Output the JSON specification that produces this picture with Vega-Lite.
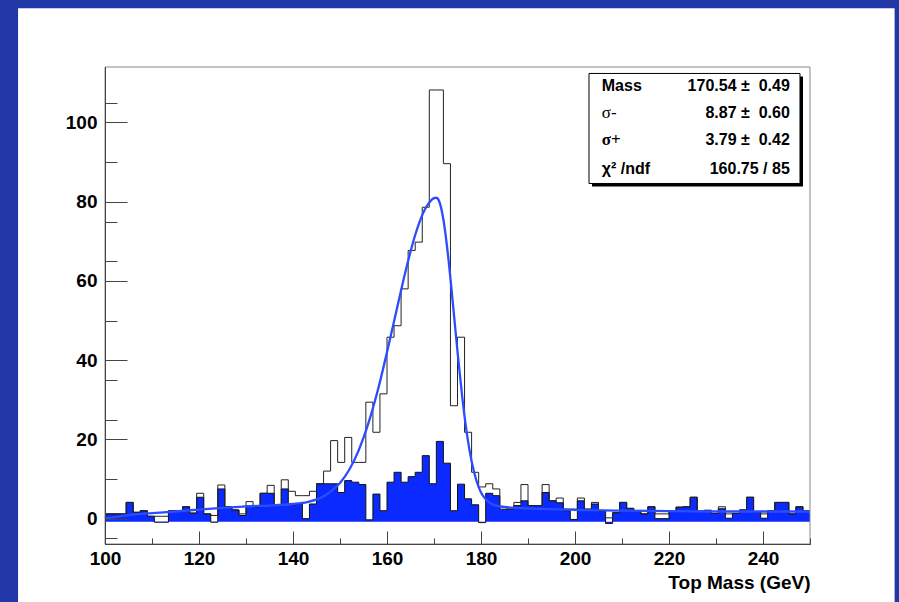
{
  "$schema": "https://vega.github.io/schema/vega-lite/v6.json",
  "width": 705,
  "height": 477,
  "autosize": "none",
  "padding": {"left": 105, "top": 67, "right": 89, "bottom": 58},
  "background": "#2338a8",
  "config": {
    "view": {"stroke": null},
    "axis": {"grid": false}
  },
  "datasets": {
    "one": [{"k": 1}],
    "hist": [
      {"i":0,"lo":100,"hi":101.5,"T":1.2,"B":1.2},
      {"i":1,"lo":101.5,"hi":103,"T":1.2,"B":1.2},
      {"i":2,"lo":103,"hi":104.5,"T":1.2,"B":1.2},
      {"i":3,"lo":104.5,"hi":106,"T":4.1,"B":4.1},
      {"i":4,"lo":106,"hi":107.5,"T":1.6,"B":1.6},
      {"i":5,"lo":107.5,"hi":109,"T":2.0,"B":2.0},
      {"i":6,"lo":109,"hi":110.5,"T":0.6,"B":0.6},
      {"i":7,"lo":110.5,"hi":112,"T":0.6,"B":-0.9},
      {"i":8,"lo":112,"hi":113.5,"T":0.6,"B":-0.9},
      {"i":9,"lo":113.5,"hi":115,"T":2.0,"B":2.0},
      {"i":10,"lo":115,"hi":116.5,"T":2.0,"B":2.0},
      {"i":11,"lo":116.5,"hi":118,"T":3.0,"B":3.0},
      {"i":12,"lo":118,"hi":119.5,"T":1.4,"B":1.4},
      {"i":13,"lo":119.5,"hi":121,"T":6.4,"B":5.4},
      {"i":14,"lo":121,"hi":122.5,"T":1.2,"B":1.2},
      {"i":15,"lo":122.5,"hi":124,"T":0.8,"B":-0.9},
      {"i":16,"lo":124,"hi":125.5,"T":8.5,"B":7.5},
      {"i":17,"lo":125.5,"hi":127,"T":3.0,"B":3.0},
      {"i":18,"lo":127,"hi":128.5,"T":2.2,"B":2.2},
      {"i":19,"lo":128.5,"hi":130,"T":1.2,"B":0.8},
      {"i":20,"lo":130,"hi":131.5,"T":4.3,"B":3.3},
      {"i":21,"lo":131.5,"hi":133,"T":3.0,"B":3.0},
      {"i":22,"lo":133,"hi":134.5,"T":6.4,"B":6.4},
      {"i":23,"lo":134.5,"hi":136,"T":8.4,"B":6.4},
      {"i":24,"lo":136,"hi":137.5,"T":3.4,"B":3.4},
      {"i":25,"lo":137.5,"hi":139,"T":9.8,"B":7.5},
      {"i":26,"lo":139,"hi":140.5,"T":6.9,"B":3.4},
      {"i":27,"lo":140.5,"hi":142,"T":5.8,"B":3.7},
      {"i":28,"lo":142,"hi":143.5,"T":5.8,"B":0.0},
      {"i":29,"lo":143.5,"hi":145,"T":6.9,"B":3.7},
      {"i":30,"lo":145,"hi":146.5,"T":8.8,"B":8.8},
      {"i":31,"lo":146.5,"hi":148,"T":12.0,"B":8.8},
      {"i":32,"lo":148,"hi":149.5,"T":19.7,"B":8.8},
      {"i":33,"lo":149.5,"hi":151,"T":14.2,"B":6.6},
      {"i":34,"lo":151,"hi":152.5,"T":20.5,"B":9.6},
      {"i":35,"lo":152.5,"hi":154,"T":14.2,"B":9.2},
      {"i":36,"lo":154,"hi":155.5,"T":14.2,"B":8.6},
      {"i":37,"lo":155.5,"hi":157,"T":29.4,"B":-0.3},
      {"i":38,"lo":157,"hi":158.5,"T":21.8,"B":6.2},
      {"i":39,"lo":158.5,"hi":160,"T":31.5,"B":2.0},
      {"i":40,"lo":160,"hi":161.5,"T":45.8,"B":9.2},
      {"i":41,"lo":161.5,"hi":163,"T":48.7,"B":11.7},
      {"i":42,"lo":163,"hi":164.5,"T":58.0,"B":9.2},
      {"i":43,"lo":164.5,"hi":166,"T":67.7,"B":10.6},
      {"i":44,"lo":166,"hi":167.5,"T":69.8,"B":11.7},
      {"i":45,"lo":167.5,"hi":169,"T":78.6,"B":15.9},
      {"i":46,"lo":169,"hi":170.5,"T":108.2,"B":8.8},
      {"i":47,"lo":170.5,"hi":172,"T":108.2,"B":19.5},
      {"i":48,"lo":172,"hi":173.5,"T":89.6,"B":14.0},
      {"i":49,"lo":173.5,"hi":175,"T":28.5,"B":2.0},
      {"i":50,"lo":175,"hi":176.5,"T":45.8,"B":8.7},
      {"i":51,"lo":176.5,"hi":178,"T":21.8,"B":5.0},
      {"i":52,"lo":178,"hi":179.5,"T":11.7,"B":3.5},
      {"i":53,"lo":179.5,"hi":181,"T":8.0,"B":-1.0},
      {"i":54,"lo":181,"hi":182.5,"T":8.8,"B":6.4},
      {"i":55,"lo":182.5,"hi":184,"T":7.5,"B":5.8},
      {"i":56,"lo":184,"hi":185.5,"T":3.0,"B":2.4},
      {"i":57,"lo":185.5,"hi":187,"T":2.4,"B":2.4},
      {"i":58,"lo":187,"hi":188.5,"T":4.1,"B":3.3},
      {"i":59,"lo":188.5,"hi":190,"T":8.6,"B":4.5},
      {"i":60,"lo":190,"hi":191.5,"T":3.3,"B":3.3},
      {"i":61,"lo":191.5,"hi":193,"T":3.3,"B":3.3},
      {"i":62,"lo":193,"hi":194.5,"T":8.6,"B":6.6},
      {"i":63,"lo":194.5,"hi":196,"T":4.5,"B":4.5},
      {"i":64,"lo":196,"hi":197.5,"T":5.2,"B":4.0},
      {"i":65,"lo":197.5,"hi":199,"T":2.4,"B":2.0},
      {"i":66,"lo":199,"hi":200.5,"T":2.4,"B":-0.2},
      {"i":67,"lo":200.5,"hi":202,"T":5.2,"B":4.5},
      {"i":68,"lo":202,"hi":203.5,"T":2.4,"B":2.4},
      {"i":69,"lo":203.5,"hi":205,"T":4.1,"B":3.7},
      {"i":70,"lo":205,"hi":206.5,"T":1.8,"B":1.8},
      {"i":71,"lo":206.5,"hi":208,"T":0.2,"B":-1.2},
      {"i":72,"lo":208,"hi":209.5,"T":1.5,"B":1.5},
      {"i":73,"lo":209.5,"hi":211,"T":4.1,"B":4.1},
      {"i":74,"lo":211,"hi":212.5,"T":2.6,"B":2.6},
      {"i":75,"lo":212.5,"hi":214,"T":2.0,"B":2.0},
      {"i":76,"lo":214,"hi":215.5,"T":1.2,"B":1.2},
      {"i":77,"lo":215.5,"hi":217,"T":3.0,"B":3.0},
      {"i":78,"lo":217,"hi":218.5,"T":1.2,"B":0.0},
      {"i":79,"lo":218.5,"hi":220,"T":1.2,"B":0.0},
      {"i":80,"lo":220,"hi":221.5,"T":1.9,"B":1.9},
      {"i":81,"lo":221.5,"hi":223,"T":2.9,"B":2.9},
      {"i":82,"lo":223,"hi":224.5,"T":3.0,"B":3.0},
      {"i":83,"lo":224.5,"hi":226,"T":5.4,"B":5.4},
      {"i":84,"lo":226,"hi":227.5,"T":1.9,"B":1.9},
      {"i":85,"lo":227.5,"hi":229,"T":2.1,"B":2.1},
      {"i":86,"lo":229,"hi":230.5,"T":1.3,"B":1.3},
      {"i":87,"lo":230.5,"hi":232,"T":3.0,"B":2.5},
      {"i":88,"lo":232,"hi":233.5,"T":1.2,"B":0.1},
      {"i":89,"lo":233.5,"hi":235,"T":1.3,"B":1.3},
      {"i":90,"lo":235,"hi":236.5,"T":2.2,"B":2.2},
      {"i":91,"lo":236.5,"hi":238,"T":5.4,"B":5.4},
      {"i":92,"lo":238,"hi":239.5,"T":1.6,"B":1.6},
      {"i":93,"lo":239.5,"hi":241,"T":1.2,"B":0.1},
      {"i":94,"lo":241,"hi":242.5,"T":2.0,"B":2.0},
      {"i":95,"lo":242.5,"hi":244,"T":4.1,"B":4.1},
      {"i":96,"lo":244,"hi":245.5,"T":4.1,"B":4.1},
      {"i":97,"lo":245.5,"hi":247,"T":1.2,"B":1.2},
      {"i":98,"lo":247,"hi":248.5,"T":3.0,"B":3.0},
      {"i":99,"lo":248.5,"hi":250,"T":2.0,"B":2.0}
    ],
    "fit": [
      {"x":100,"y":0.0},{"x":103,"y":0.6},{"x":105,"y":0.9},{"x":110,"y":1.4},
      {"x":115,"y":1.8},{"x":120,"y":2.3},{"x":125,"y":2.7},{"x":130,"y":3.1},
      {"x":135,"y":3.3},{"x":140,"y":3.7},{"x":143,"y":4.2},{"x":146,"y":5.3},
      {"x":148,"y":6.8},{"x":150,"y":9.0},{"x":152,"y":12.4},{"x":154,"y":17.3},
      {"x":156,"y":23.9},{"x":158,"y":32.2},{"x":160,"y":42.0},{"x":162,"y":52.4},
      {"x":164,"y":62.7},{"x":166,"y":71.6},{"x":168,"y":77.9},{"x":169,"y":79.8},
      {"x":170,"y":80.9},{"x":170.5,"y":81.0},{"x":171,"y":80.4},{"x":172,"y":75.5},
      {"x":173,"y":66.3},{"x":174,"y":54.5},{"x":175,"y":42.2},{"x":176,"y":30.8},
      {"x":177,"y":21.4},{"x":178,"y":14.5},{"x":179,"y":9.7},{"x":180,"y":6.6},
      {"x":181,"y":4.9},{"x":182,"y":3.9},{"x":183,"y":3.35},{"x":185,"y":2.95},
      {"x":190,"y":2.6},{"x":195,"y":2.4},{"x":200,"y":2.2},{"x":210,"y":2.0},
      {"x":220,"y":1.9},{"x":230,"y":1.8},{"x":240,"y":1.8},{"x":250,"y":1.8}
    ]
  },
  "resolve": {"axis": {"x": "independent", "y": "independent"}},
  "layer": [
    {
      "data": {"name": "one"},
      "mark": {"type": "rect", "fill": "#ffffff", "strokeWidth": 0},
      "encoding": {
        "x": {
          "datum": 81.5, "type": "quantitative",
          "scale": {"domain": [100, 250], "nice": false, "zero": false},
          "axis": {
            "orient": "bottom",
            "zindex": 2,
            "values": [100,120,140,160,180,200,220,240],
            "tickSize": -13,
            "tickColor": "#444", "tickWidth": 1,
            "domainColor": "#444", "domainWidth": 1,
            "labelFlush": false,
            "labelOverlap": false,
            "labelPadding": 18,
            "labelFont": "Liberation Sans", "labelFontWeight": "bold", "labelFontSize": 19, "labelColor": "#000",
            "title": "Top Mass (GeV)",
            "titleAnchor": "end", "titleAlign": "right",
            "titleFont": "Liberation Sans", "titleFontWeight": "bold", "titleFontSize": 19, "titleColor": "#000",
            "titlePadding": 5
          }
        },
        "x2": {"datum": 268},
        "y": {
          "datum": 128.8, "type": "quantitative",
          "scale": {"domain": [-6.4, 114], "nice": false, "zero": false},
          "axis": {
            "orient": "left",
            "zindex": 2,
            "values": [0,20,40,60,80,100],
            "tickSize": -22,
            "tickColor": "#444", "tickWidth": 1,
            "domainColor": "#444", "domainWidth": 1,
            "labelOverlap": false,
            "labelPadding": 30,
            "labelFont": "Liberation Sans", "labelFontWeight": "bold", "labelFontSize": 19, "labelColor": "#000",
            "title": null
          }
        },
        "y2": {"datum": -30}
      }
    },
    {
      "layer": [
        {
          "data": {"name": "hist"},
          "transform": [{"fold": ["lo", "hi"], "as": ["edge", "xpos"]}],
          "mark": {"type": "area", "fill": "#0a2aff", "strokeWidth": 0, "opacity": 1},
          "encoding": {
            "x": {"field": "xpos", "type": "quantitative",
              "axis": {"orient": "bottom", "zindex": 2, "title": null, "labels": false,
                "values": [100,105,110,115,120,125,130,135,140,145,150,155,160,165,170,175,180,185,190,195,200,205,210,215,220,225,230,235,240,245,250],
                "tickSize": -6, "tickColor": "#444", "tickWidth": 1, "domainColor": "#444"}},
            "y": {"field": "B", "type": "quantitative",
              "axis": {"orient": "left", "zindex": 2, "title": null, "labels": false,
                "values": [-5,5,10,15,25,30,35,45,50,55,65,70,75,85,90,95,105,110],
                "tickSize": -12, "tickColor": "#444", "tickWidth": 1, "domainColor": "#444"}},
            "y2": {"datum": -0.8},
            "order": [{"field": "i", "type": "quantitative"}, {"field": "edge", "sort": "descending"}]
          }
        },
        {
          "data": {"name": "hist"},
          "transform": [{"fold": ["lo", "hi"], "as": ["edge", "xpos"]}],
          "mark": {"type": "line", "stroke": "#111", "strokeWidth": 1},
          "encoding": {
            "x": {"field": "xpos", "type": "quantitative"},
            "y": {"field": "B", "type": "quantitative"},
            "order": [{"field": "i", "type": "quantitative"}, {"field": "edge", "sort": "descending"}]
          }
        },
        {
          "data": {"name": "hist"},
          "transform": [{"fold": ["lo", "hi"], "as": ["edge", "xpos"]}],
          "mark": {"type": "line", "stroke": "#222", "strokeWidth": 1},
          "encoding": {
            "x": {"field": "xpos", "type": "quantitative"},
            "y": {"field": "T", "type": "quantitative"},
            "order": [{"field": "i", "type": "quantitative"}, {"field": "edge", "sort": "descending"}]
          }
        },
        {
          "data": {"name": "fit"},
          "mark": {"type": "line", "stroke": "#2b4cff", "strokeWidth": 2.3, "interpolate": "monotone"},
          "encoding": {
            "x": {"field": "x", "type": "quantitative"},
            "y": {"field": "y", "type": "quantitative"}
          }
        },
        {
          "data": {"name": "one"},
          "mark": {"type": "rect", "fill": null, "stroke": "#888", "strokeWidth": 1},
          "encoding": {
            "x": {"datum": 100, "type": "quantitative"},
            "x2": {"datum": 250},
            "y": {"datum": -6.4, "type": "quantitative"},
            "y2": {"datum": 114}
          }
        },
        {
          "data": {"name": "one"},
          "mark": {"type": "rect", "fill": "#000", "strokeWidth": 0},
          "encoding": {
            "x": {"datum": 203.62, "type": "quantitative"},
            "x2": {"datum": 248.51},
            "y": {"datum": 83.84, "type": "quantitative"},
            "y2": {"datum": 111.6}
          }
        },
        {
          "data": {"name": "one"},
          "mark": {"type": "rect", "fill": "#fff", "stroke": "#000", "strokeWidth": 1},
          "encoding": {
            "x": {"datum": 202.98, "type": "quantitative"},
            "x2": {"datum": 247.87},
            "y": {"datum": 84.6, "type": "quantitative"},
            "y2": {"datum": 112.37}
          }
        },
        {
          "data": {"name": "one"},
          "mark": {"type": "text", "align": "left", "baseline": "middle", "font": "Liberation Sans", "fontWeight": "bold", "fontSize": 16, "color": "#000"},
          "encoding": {"x": {"datum": 205.7, "type": "quantitative"}, "y": {"datum": 109.3, "type": "quantitative"}, "text": {"value": "Mass"}}
        },
        {
          "data": {"name": "one"},
          "mark": {"type": "text", "align": "right", "baseline": "middle", "font": "Liberation Sans", "fontWeight": "bold", "fontSize": 16, "color": "#000"},
          "encoding": {"x": {"datum": 245.7, "type": "quantitative"}, "y": {"datum": 109.3, "type": "quantitative"}, "text": {"value": "170.54 ±\u00a0 0.49"}}
        },
        {
          "data": {"name": "one"},
          "mark": {"type": "text", "align": "left", "baseline": "middle", "font": "Liberation Serif", "fontWeight": "normal", "fontSize": 17, "color": "#000"},
          "encoding": {"x": {"datum": 205.7, "type": "quantitative"}, "y": {"datum": 102.35, "type": "quantitative"}, "text": {"value": "σ-"}}
        },
        {
          "data": {"name": "one"},
          "mark": {"type": "text", "align": "right", "baseline": "middle", "font": "Liberation Sans", "fontWeight": "bold", "fontSize": 16, "color": "#000"},
          "encoding": {"x": {"datum": 245.7, "type": "quantitative"}, "y": {"datum": 102.35, "type": "quantitative"}, "text": {"value": "8.87 ±\u00a0 0.60"}}
        },
        {
          "data": {"name": "one"},
          "mark": {"type": "text", "align": "left", "baseline": "middle", "font": "Liberation Serif", "fontWeight": "bold", "fontSize": 17, "color": "#000"},
          "encoding": {"x": {"datum": 205.7, "type": "quantitative"}, "y": {"datum": 95.45, "type": "quantitative"}, "text": {"value": "σ+"}}
        },
        {
          "data": {"name": "one"},
          "mark": {"type": "text", "align": "right", "baseline": "middle", "font": "Liberation Sans", "fontWeight": "bold", "fontSize": 16, "color": "#000"},
          "encoding": {"x": {"datum": 245.7, "type": "quantitative"}, "y": {"datum": 95.45, "type": "quantitative"}, "text": {"value": "3.79 ±\u00a0 0.42"}}
        },
        {
          "data": {"name": "one"},
          "mark": {"type": "text", "align": "left", "baseline": "middle", "font": "Liberation Sans", "fontWeight": "bold", "fontSize": 16, "color": "#000"},
          "encoding": {"x": {"datum": 205.7, "type": "quantitative"}, "y": {"datum": 88.3, "type": "quantitative"}, "text": {"value": "χ² /ndf"}}
        },
        {
          "data": {"name": "one"},
          "mark": {"type": "text", "align": "right", "baseline": "middle", "font": "Liberation Sans", "fontWeight": "bold", "fontSize": 16, "color": "#000"},
          "encoding": {"x": {"datum": 245.7, "type": "quantitative"}, "y": {"datum": 88.3, "type": "quantitative"}, "text": {"value": "160.75 / 85"}}
        }
      ]
    }
  ]
}
